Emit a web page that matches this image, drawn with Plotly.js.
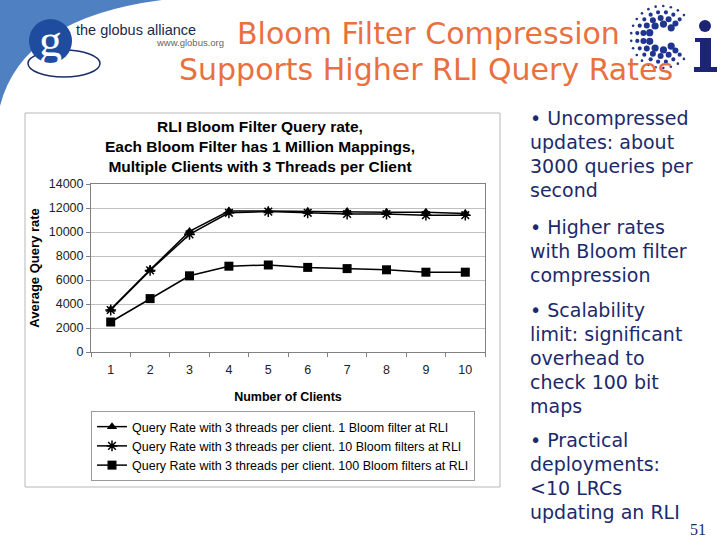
<!DOCTYPE html>
<html>
<head>
<meta charset="utf-8">
<script src="https://cdn.plot.ly/plotly-3.0.1.min.js"></script>
<style>html,body{margin:0;padding:0;background:#fff;}#chart{width:720px;height:540px;}</style>
</head>
<body>
<div id="chart"></div>
<script>
// ---- data ----
const clients = ['1','2','3','4','5','6','7','8','9','10'];
const rate1Filter   = [3550, 6850, 10050, 11750, 11750, 11700, 11700, 11650, 11650, 11550];
const rate10Filters = [3500, 6800, 9800, 11600, 11700, 11600, 11500, 11500, 11400, 11400];
const rate100Filters= [2500, 4450, 6350, 7150, 7250, 7050, 6950, 6850, 6650, 6650];
const seriesNames = [
  'Query Rate with 3 threads per client. 1 Bloom filter at RLI',
  'Query Rate with 3 threads per client. 10 Bloom filters at RLI',
  'Query Rate with 3 threads per client. 100 Bloom filters at RLI'
];
const yTicks = [0, 2000, 4000, 6000, 8000, 10000, 12000, 14000];
const slideTitle = ['Bloom Filter Compression', 'Supports Higher RLI Query Rates'];
const bullets = [
  ['• Uncompressed', 'updates: about', '3000 queries per', 'second'],
  ['• Higher rates', 'with Bloom filter', 'compression'],
  ['• Scalability', 'limit: significant', 'overhead to', 'check 100 bit', 'maps'],
  ['• Practical', 'deployments:', '&lt;10 LRCs', 'updating an RLI']
];

// ---- helpers (pixel -> paper) ----
const W = 720, H = 540;
const px = x => x / W;
const py = y => 1 - y / H;

const FONT = 'Liberation Sans, Arial, sans-serif';
const NAVY = '#1b2a6b';
const ORANGE = '#e9703f';

const traces = [
  {x: clients, y: rate1Filter, name: seriesNames[0], mode: 'lines+markers',
   line: {color: '#000', width: 1.5}, marker: {symbol: 'triangle-up', size: 9, color: '#000'}},
  {x: clients, y: rate10Filters, name: seriesNames[1], mode: 'lines+markers',
   line: {color: '#000', width: 1.5}, marker: {symbol: 'asterisk-open', size: 9, color: '#000', line: {color: '#000', width: 1.5}}},
  {x: clients, y: rate100Filters, name: seriesNames[2], mode: 'lines+markers',
   line: {color: '#000', width: 1.5}, marker: {symbol: 'square', size: 9, color: '#000'}}
];

const shapes = [];
// blue swoosh
shapes.push({type: 'path', xref: 'paper', yref: 'paper', layer: 'below',
  path: `M ${px(0)},${py(0)} L ${px(162)},${py(0)} Q ${px(22)},${py(18)} ${px(0)},${py(106)} Z`,
  fillcolor: '#4f80c2', line: {width: 0}});
// globus logo
shapes.push({type: 'circle', xref: 'paper', yref: 'paper', x0: px(28), x1: px(100), y0: py(50), y1: py(77),
  line: {color: '#1a2e6a', width: 1.5}, fillcolor: 'rgba(0,0,0,0)'});
shapes.push({type: 'circle', xref: 'paper', yref: 'paper', x0: px(29), x1: px(72), y0: py(19), y1: py(63),
  line: {width: 0}, fillcolor: '#1f4c9e'});
// chart frame
shapes.push({type: 'rect', xref: 'paper', yref: 'paper', layer: 'below', x0: px(25), x1: px(500), y0: py(113), y1: py(487),
  line: {color: '#b8b8b8', width: 1}, fillcolor: '#fff'});
// Ci logo dots
const cx = 662, cy = 37;
const rings = [{r: 13, s: 3.6, n: 8}, {r: 19, s: 3.0, n: 12}, {r: 25, s: 2.1, n: 16}, {r: 31, s: 1.3, n: 20}];
rings.forEach(ring => {
  for (let k = 0; k < ring.n; k++) {
    const a = (45 + k * (270 / (ring.n - 1))) * Math.PI / 180;
    const x = cx + ring.r * Math.cos(a), y = cy - ring.r * Math.sin(a);
    shapes.push({type: 'circle', xref: 'paper', yref: 'paper', x0: px(x - ring.s), x1: px(x + ring.s),
      y0: py(y - ring.s), y1: py(y + ring.s), line: {width: 0}, fillcolor: '#1f3590'});
  }
});
// Ci "i"
shapes.push({type: 'circle', xref: 'paper', yref: 'paper', x0: px(699), x1: px(711), y0: py(20), y1: py(32), line: {width: 0}, fillcolor: '#1b2573'});
shapes.push({type: 'rect', xref: 'paper', yref: 'paper', x0: px(700), x1: px(711), y0: py(38), y1: py(72), line: {width: 0}, fillcolor: '#1b2573'});
shapes.push({type: 'rect', xref: 'paper', yref: 'paper', x0: px(694), x1: px(717), y0: py(67), y1: py(72), line: {width: 0}, fillcolor: '#1b2573'});
shapes.push({type: 'rect', xref: 'paper', yref: 'paper', x0: px(695), x1: px(711), y0: py(38), y1: py(42), line: {width: 0}, fillcolor: '#1b2573'});

const annotations = [];
annotations.push({xref: 'paper', yref: 'paper', x: px(50), y: py(40), text: 'g', showarrow: false,
  font: {family: 'Liberation Serif, serif', size: 46, color: '#fff'}, xanchor: 'center', yanchor: 'middle'});
annotations.push({xref: 'paper', yref: 'paper', x: px(74), y: py(30), text: 'the globus alliance', showarrow: false,
  font: {family: FONT, size: 14.5, color: '#1a2a4a'}, xanchor: 'left', yanchor: 'middle'});
annotations.push({xref: 'paper', yref: 'paper', x: px(154), y: py(43), text: 'www.globus.org', showarrow: false,
  font: {family: FONT, size: 9.5, color: '#666'}, xanchor: 'left', yanchor: 'middle'});
annotations.push({xref: 'paper', yref: 'paper', x: px(428), y: py(33), text: slideTitle[0], showarrow: false,
  font: {family: 'DejaVu Sans, sans-serif', size: 30, color: ORANGE}, xanchor: 'center', yanchor: 'middle'});
annotations.push({xref: 'paper', yref: 'paper', x: px(426), y: py(69), text: slideTitle[1], showarrow: false,
  font: {family: 'DejaVu Sans, sans-serif', size: 30, color: ORANGE}, xanchor: 'center', yanchor: 'middle'});
const paraStart = [118, 227, 310, 440];
bullets.forEach((lines, p) => {
  lines.forEach((t, i) => {
    annotations.push({xref: 'paper', yref: 'paper', x: px(528), y: py(paraStart[p] + 24 * i), text: t, showarrow: false,
      font: {family: 'DejaVu Sans, sans-serif', size: 19, color: NAVY}, xanchor: 'left', yanchor: 'middle'});
  });
});
annotations.push({xref: 'paper', yref: 'paper', x: px(698), y: py(529), text: '51', showarrow: false,
  font: {family: 'Liberation Serif, serif', size: 16, color: NAVY}, xanchor: 'center', yanchor: 'middle'});

const layout = {
  width: W, height: H,
  margin: {l: 0, r: 0, t: 0, b: 0},
  paper_bgcolor: '#fff', plot_bgcolor: '#fff',
  font: {family: FONT, color: '#000', size: 12},
  showlegend: true,
  title: {
    text: '<b>RLI Bloom Filter Query rate,<br>Each Bloom Filter has 1 Million Mappings,<br>Multiple Clients with 3 Threads per Client</b>',
    x: px(260), xanchor: 'center', xref: 'paper', y: py(132), yanchor: 'top', yref: 'paper',
    font: {family: FONT, size: 15.5, color: '#000'}
  },
  xaxis: {
    type: 'category', domain: [px(91), px(485)], anchor: 'y', range: [-0.5, 9.5], autorange: false,
    tickson: 'boundaries', ticks: 'outside', ticklen: 4, tickcolor: '#808080',
    showline: true, linecolor: '#808080', linewidth: 1, mirror: true,
    showgrid: false, zeroline: false, ticklabelstandoff: 6,
    tickfont: {family: FONT, size: 12.5, color: '#222'},
    title: {text: '<b>Number of Clients</b>', font: {family: FONT, size: 12.5, color: '#000'}, standoff: 16}
  },
  yaxis: {
    domain: [py(352), py(184)], anchor: 'x', range: [0, 14000], autorange: false,
    tickmode: 'array', tickvals: yTicks, tickformat: 'd',
    ticks: 'outside', ticklen: 4, tickcolor: '#808080',
    showline: true, linecolor: '#808080', linewidth: 1, mirror: true,
    showgrid: true, gridcolor: '#c0c0c0', gridwidth: 1, zeroline: false,
    tickfont: {family: FONT, size: 12.5, color: '#222'},
    title: {text: '<b>Average Query rate</b>', font: {family: FONT, size: 13, color: '#000'}, standoff: 6}
  },
  legend: {
    x: px(91), y: py(411), xanchor: 'left', yanchor: 'top', xref: 'paper', yref: 'paper',
    bgcolor: '#fff', bordercolor: '#9a9a9a', borderwidth: 1,
    font: {family: FONT, size: 12.5, color: '#000'}, tracegroupgap: 0, itemwidth: 30
  },
  shapes: shapes,
  annotations: annotations
};

Plotly.newPlot('chart', traces, layout, {displayModeBar: false, staticPlot: true});
</script>
</body>
</html>
